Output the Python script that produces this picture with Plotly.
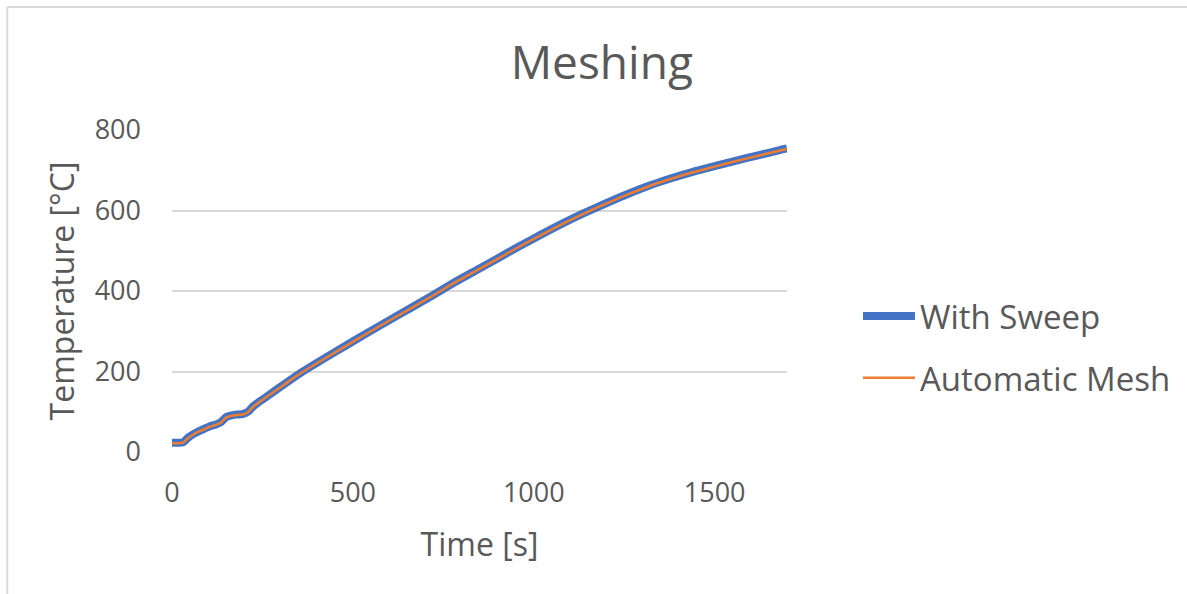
import plotly.graph_objects as go

time_s = [0, 15, 30, 45, 60, 75, 90, 105, 120, 135, 150, 165, 180, 195, 210, 225, 240,
          270, 300, 330, 360, 420, 480, 540, 600, 660, 720, 780, 840, 900, 960, 1020,
          1080, 1140, 1200, 1260, 1320, 1380, 1440, 1500, 1560, 1620, 1680, 1700]

with_sweep = [23, 23, 24, 36, 45, 52, 58, 64, 68, 74, 87, 91, 93, 94, 100, 114, 124,
              143, 162, 181, 199, 232, 264, 296, 327, 358, 389, 421, 451, 481, 511, 540,
              568, 594, 618, 641, 662, 680, 696, 710, 724, 737, 750, 754]

automatic_mesh = [22, 22, 23, 35, 44, 51, 57, 63, 67, 73, 86, 90, 92, 93, 99, 113, 123,
                  142, 161, 180, 198, 231, 263, 295, 326, 357, 388, 420, 450, 480, 510, 539,
                  567, 593, 617, 640, 661, 679, 695, 709, 723, 736, 749, 753]

x_ticks = [0, 500, 1000, 1500]
y_ticks = [0, 200, 400, 600, 800]

W, H = 1187, 594
L, R, T, B = 172, 399, 130, 142
pw, ph = W - L - R, H - T - B

def px_x(p):
    return (p - L) / pw

def px_y(p):
    return (H - B - p) / ph

FONT = "Open Sans"
GRAY = "#595959"
GRID = "#d9d9d9"

fig = go.Figure()
fig.add_trace(go.Scatter(x=time_s, y=with_sweep, mode="lines", name="With Sweep",
                         line=dict(color="#4472C4", width=8, shape="spline", smoothing=0.6),
                         legendgroup="a"))
fig.add_trace(go.Scatter(x=time_s, y=automatic_mesh, mode="lines", name="Automatic Mesh",
                         line=dict(color="#ED7D31", width=2.5, shape="spline", smoothing=0.6),
                         legendgroup="b"))

fig.update_layout(
    width=W, height=H,
    margin=dict(l=L, r=R, t=T, b=B, pad=0),
    paper_bgcolor="white", plot_bgcolor="white",
    font=dict(family=FONT, color=GRAY, size=27),
    title=dict(text="Meshing", x=0.507, xref="container", xanchor="center",
               y=1 - 63 / H, yref="container", yanchor="middle",
               font=dict(size=46, color=GRAY, family=FONT)),
    showlegend=True,
    legend=dict(x=px_x(858), xanchor="left", y=px_y(347), yanchor="middle",
                font=dict(size=33, color=GRAY, family=FONT),
                itemwidth=52,
                tracegroupgap=16, bgcolor="rgba(0,0,0,0)"),
    xaxis=dict(range=[0, 1700], tickvals=x_ticks, showgrid=False, zeroline=False,
               showline=False, ticks="", ticklabelstandoff=22,
               tickfont=dict(size=27, color=GRAY),
               title=dict(text="Time [s]", font=dict(size=32, color=GRAY), standoff=24)),
    yaxis=dict(range=[0, 800], tickvals=y_ticks, showgrid=True, gridcolor=GRID,
               gridwidth=1.5, zeroline=False, showline=False, ticks="",
               ticklabelstandoff=30, tickfont=dict(size=27, color=GRAY),
               title=dict(text="Temperature [°C]", font=dict(size=32, color=GRAY),
                          standoff=10)),
    shapes=[
        dict(type="line", xref="paper", yref="paper", x0=px_x(7), x1=px_x(7),
             y0=px_y(H + 5), y1=px_y(7), line=dict(color=GRID, width=2)),
        dict(type="line", xref="paper", yref="paper", x0=px_x(7), x1=px_x(W + 5),
             y0=px_y(7), y1=px_y(7), line=dict(color=GRID, width=2)),
    ],
)

fig.write_html("out.html")
